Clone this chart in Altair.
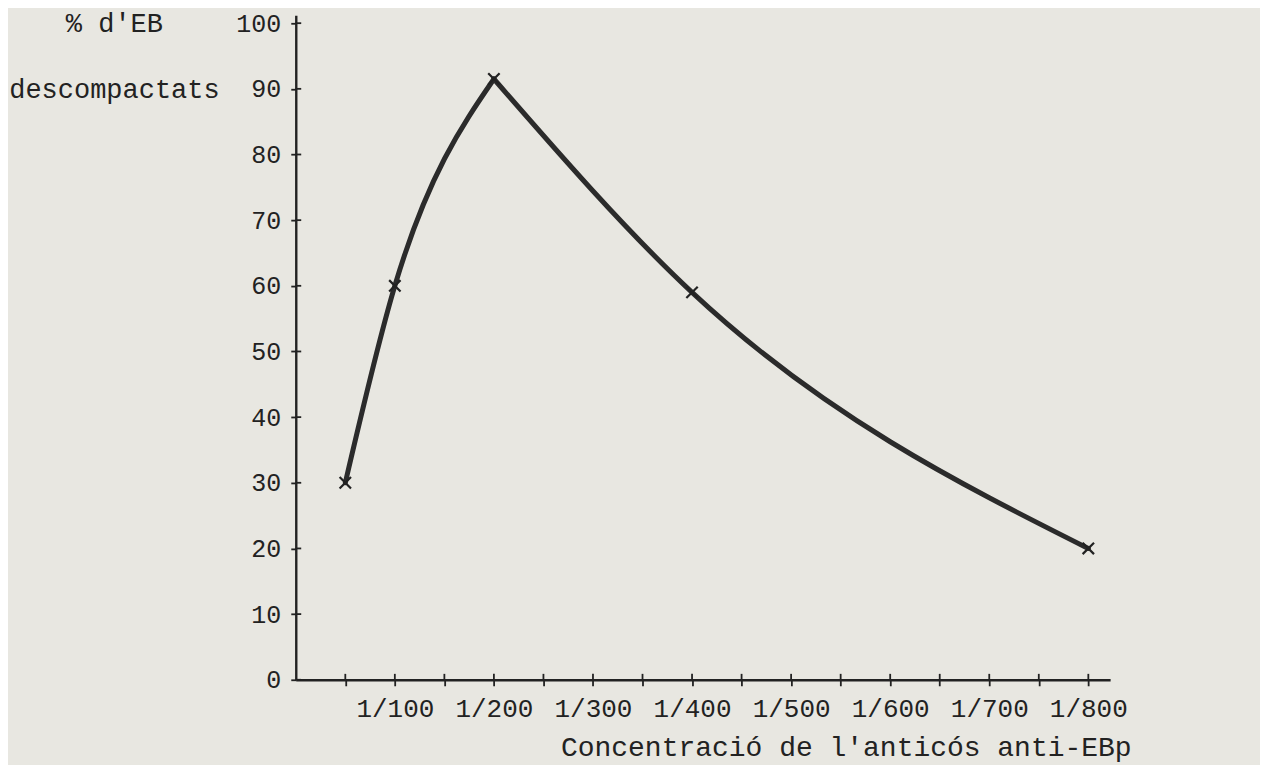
import altair as alt
import pandas as pd

# dilution denominators (1/x) and % of EB decompacted
dilution = [50, 100, 200, 400, 800]
pct_eb = [30, 60, 91.5, 59, 20]
segments = ["up", "up", "up|down", "down", "down"]

x_ticks = [50, 100, 150, 200, 250, 300, 350, 400, 450, 500, 550, 600, 650, 700, 750, 800]
y_ticks = [0, 10, 20, 30, 40, 50, 60, 70, 80, 90, 100]

rows = []
for d, p, s in zip(dilution, pct_eb, segments):
    for seg in s.split("|"):
        rows.append({"dil": d, "pct": p, "seg": seg})
line_df = pd.DataFrame(rows)
pts_df = pd.DataFrame({"dil": dilution, "pct": pct_eb})
xt_df = pd.DataFrame({"v": x_ticks})
yt_df = pd.DataFrame({"v": y_ticks})

W, H = 815, 665
FONT = "Liberation Mono"
INK = "#222222"

xscale = alt.Scale(domain=[0, 822], nice=False, zero=True)
yscale = alt.Scale(domain=[0, 101.2], nice=False, zero=True)

x_main = alt.Axis(
    values=x_ticks,
    labelExpr="datum.value % 100 == 0 ? '1/' + datum.value : ''",
    title="Concentració de l'anticós anti-EBp",
    titleAnchor="end",
    titleAlign="right",
    titleX=836,
    titleY=76,
    titleBaseline="alphabetic",
    titleFont=FONT,
    titleFontSize=28,
    titleFontWeight="normal",
    titleColor=INK,
    labelFont=FONT,
    labelFontSize=26,
    labelColor=INK,
    labelPadding=10,
    labelOverlap=False,
    tickSize=6,
    tickWidth=1.8,
    tickColor=INK,
    domainColor=INK,
    domainWidth=2.4,
    grid=False,
)
y_main = alt.Axis(
    values=y_ticks,
    title=["% d'EB", "descompactats"],
    titleAngle=0,
    titleAlign="center",
    titleAnchor="start",
    titleX=-182,
    titleY=16,
    titleBaseline="alphabetic",
    titleLineHeight=66,
    titleFont=FONT,
    titleFontSize=27,
    titleFontWeight="normal",
    titleColor=INK,
    labelFont=FONT,
    labelFontSize=25,
    labelColor=INK,
    labelPadding=10,
    tickSize=5,
    tickWidth=1.8,
    tickColor=INK,
    domainColor=INK,
    domainWidth=2.4,
    grid=False,
)

line = alt.Chart(line_df).mark_line(
    interpolate="monotone", color="#2b2b2b", strokeWidth=5, strokeCap="round"
).encode(
    x=alt.X("dil:Q", scale=xscale, axis=x_main),
    y=alt.Y("pct:Q", scale=yscale, axis=y_main),
    detail="seg:N",
)

points = alt.Chart(pts_df).mark_point(
    shape="M-1,-1L1,1M-1,1L1,-1", size=130, stroke="#222222", strokeWidth=2.2,
    filled=False, opacity=1,
).encode(
    x=alt.X("dil:Q", scale=xscale),
    y=alt.Y("pct:Q", scale=yscale),
)

# inner halves of the "+" shaped axis ticks
x_inner = alt.Chart(xt_df).mark_rule(color=INK, strokeWidth=1.8).encode(
    x=alt.X("v:Q", scale=xscale),
    y=alt.datum(0, scale=yscale),
    y2=alt.datum(0.9),
)
y_inner = alt.Chart(yt_df).mark_rule(color=INK, strokeWidth=1.8).encode(
    y=alt.Y("v:Q", scale=yscale),
    x=alt.datum(0, scale=xscale),
    x2=alt.datum(5.5),
)

chart = alt.layer(line, x_inner, y_inner, points).properties(
    width=W,
    height=H,
    autosize=alt.AutoSizeParams(type="none"),
    padding={"left": 288, "top": 7, "right": 150, "bottom": 85},
    background="#e8e7e1",
).configure_view(stroke=None)

chart.save("out.html", embed_options={"renderer": "svg", "actions": False})
